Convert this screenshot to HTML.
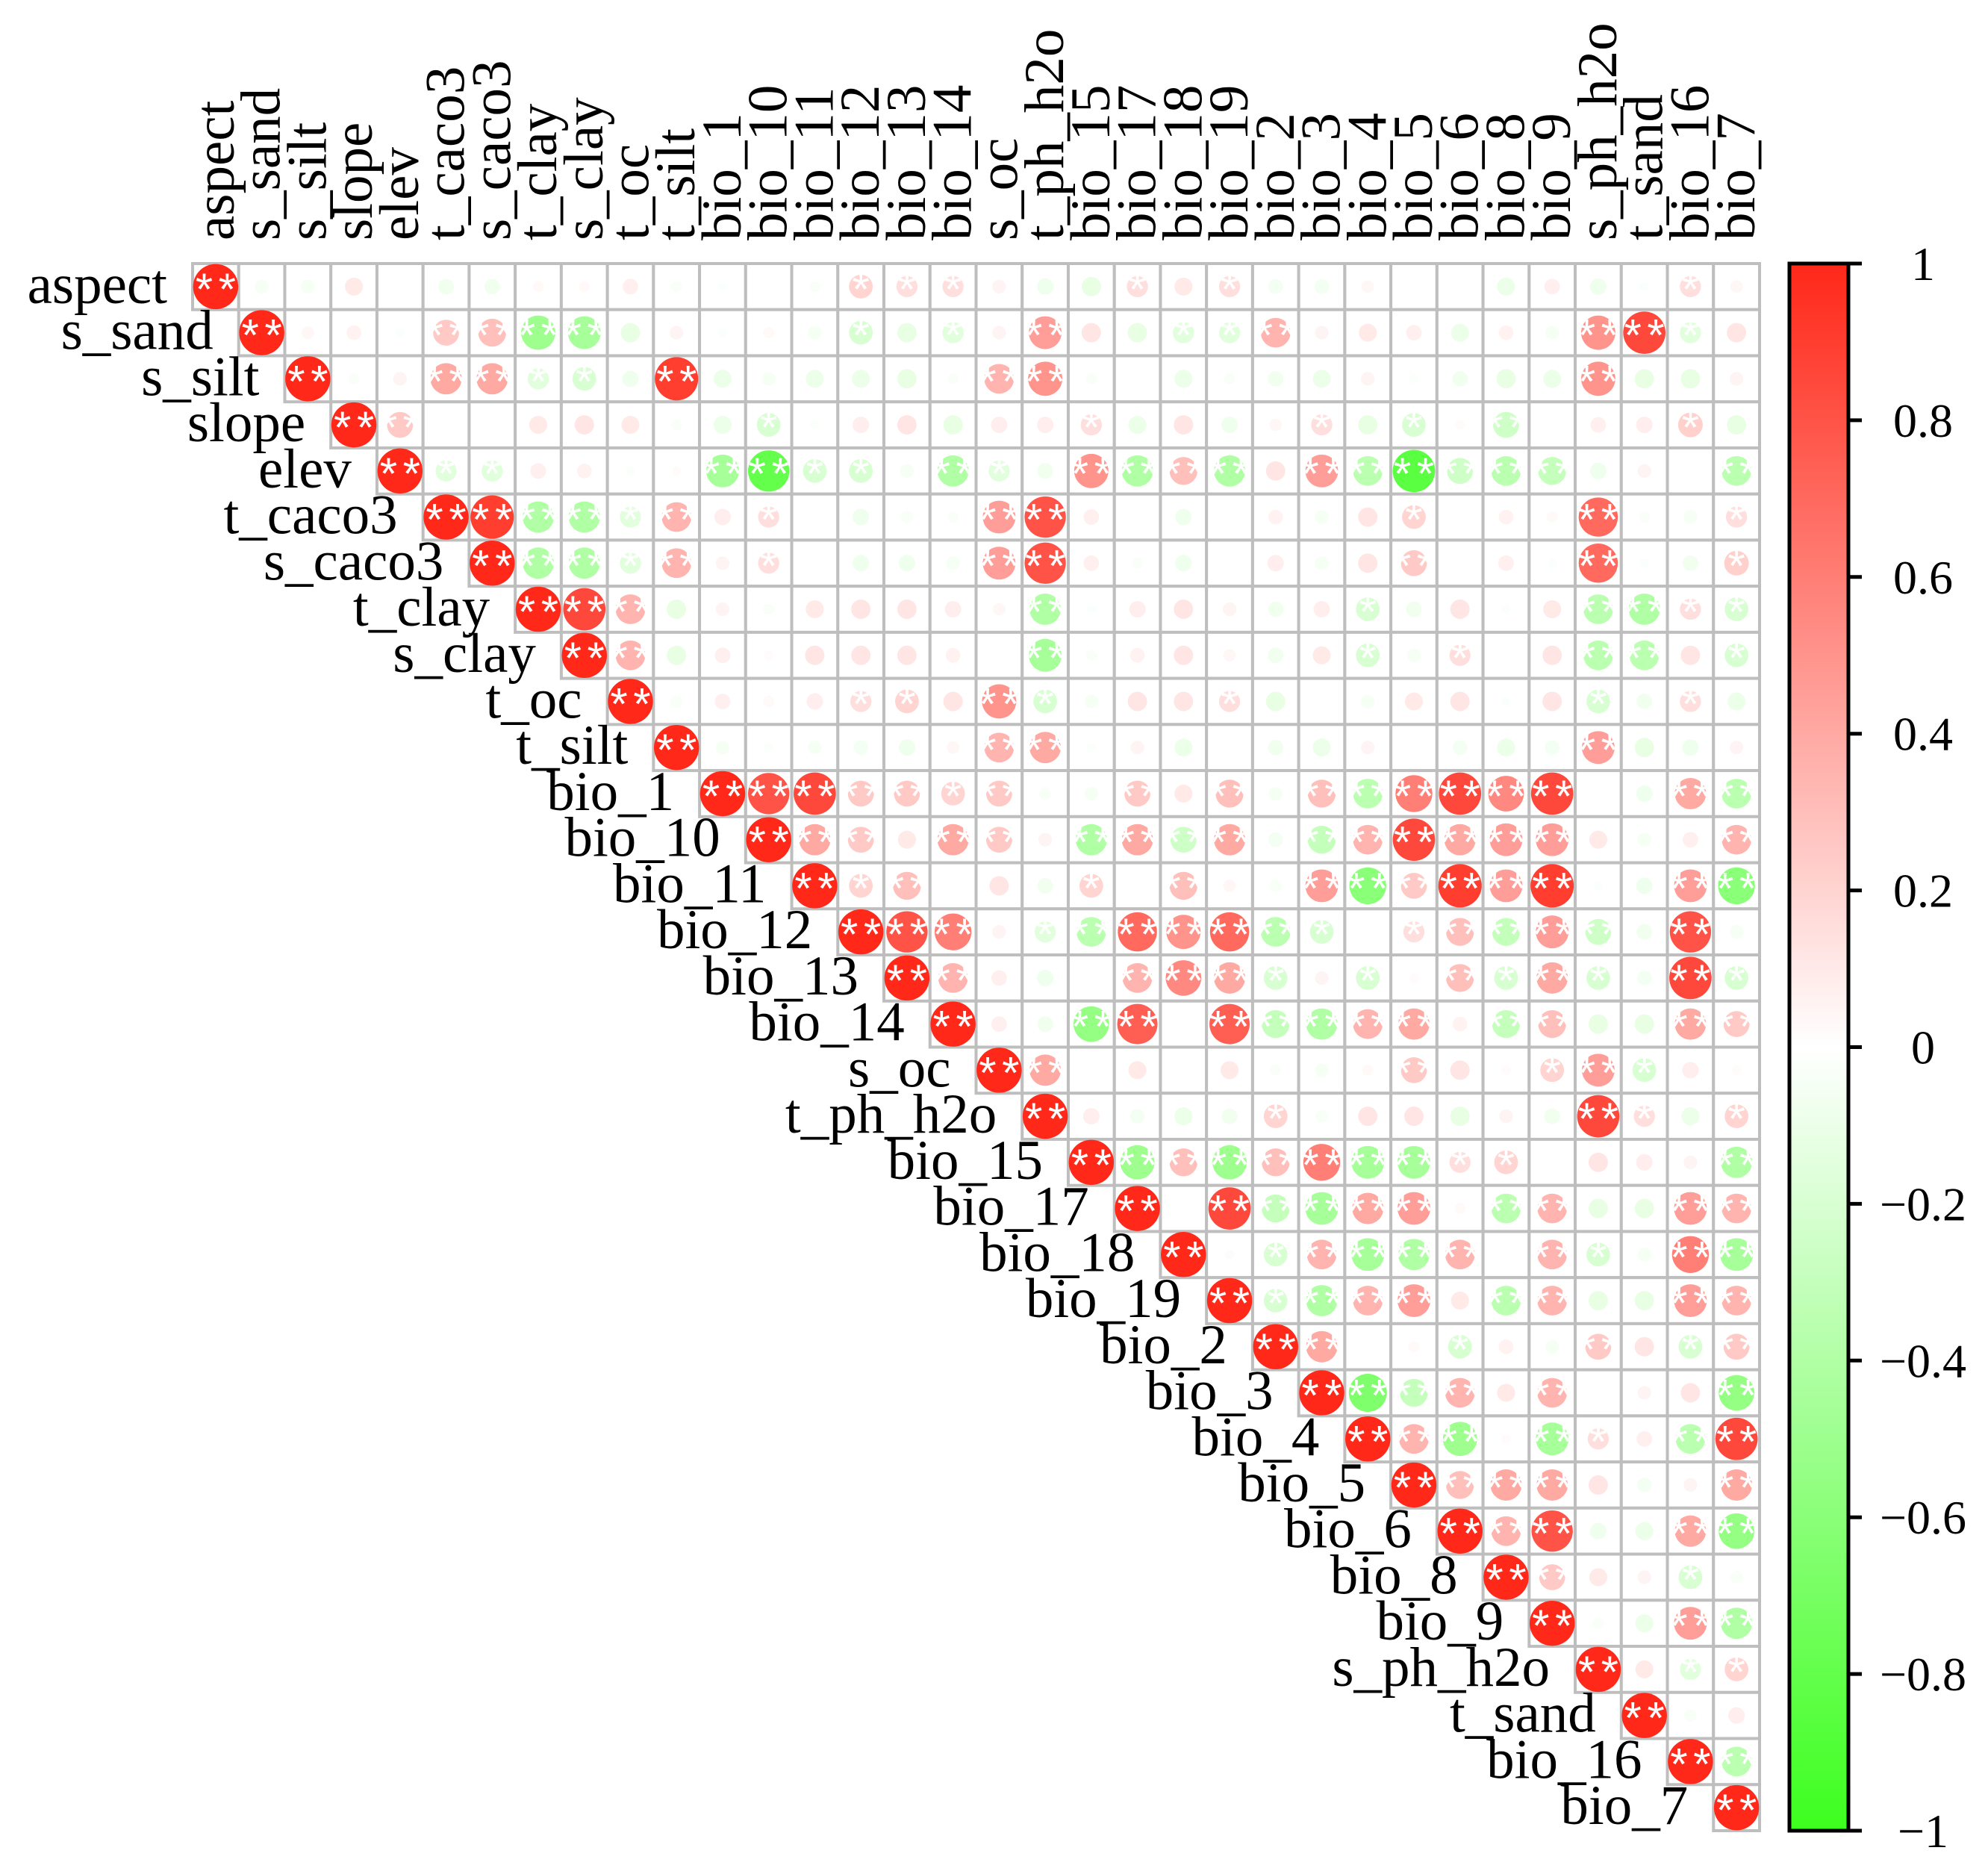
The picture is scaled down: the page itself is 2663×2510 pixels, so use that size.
<!DOCTYPE html>
<html><head><meta charset="utf-8"><style>
html,body{margin:0;padding:0;background:#fff;}
svg{display:block;font-family:"Liberation Serif","DejaVu Serif",serif;}
</style></head><body>
<svg id="chart" width="2663" height="2510" viewBox="0 0 2663 2510" xmlns="http://www.w3.org/2000/svg">
<defs>
<linearGradient id="cbgrad" x1="0" y1="1" x2="0" y2="0">
<stop offset="0" stop-color="rgb(60,255,30)"/>
<stop offset="0.5" stop-color="#ffffff"/>
<stop offset="1" stop-color="rgb(255,40,25)"/>
</linearGradient>
</defs>
<g id="cells"></g>
<g id="rowlabels"></g>
<g id="collabels"></g>
<g id="colorbar">
<rect x="2397" y="353" width="79" height="2099" fill="url(#cbgrad)" stroke="#000" stroke-width="5"/>
</g>
</svg>
<script>
const variables = ["aspect","s_sand","s_silt","slope","elev","t_caco3","s_caco3","t_clay","s_clay","t_oc","t_silt","bio_1","bio_10","bio_11","bio_12","bio_13","bio_14","s_oc","t_ph_h2o","bio_15","bio_17","bio_18","bio_19","bio_2","bio_3","bio_4","bio_5","bio_6","bio_8","bio_9","s_ph_h2o","t_sand","bio_16","bio_7"];
// upper triangle values: row i holds correlations with columns i+1..33
const corrRows = [
[-0.05,-0.05,0.1,0,-0.07,-0.07,0.03,0.03,0.07,-0.03,-0.02,0,-0.03,0.2,0.15,0.15,0.05,-0.08,-0.12,0.15,0.1,0.15,-0.06,-0.06,0.04,0,0,-0.1,0.07,-0.08,-0.02,0.15,0.04],
[0.04,0.06,-0.02,0.25,0.3,-0.5,-0.45,-0.12,0.05,-0.02,0.03,-0.05,-0.2,-0.12,-0.15,0.05,0.45,0.12,-0.12,-0.15,-0.15,0.35,0.05,0.1,0.07,-0.1,0.06,-0.05,0.5,0.85,-0.15,0.12],
[-0.03,0.05,0.4,0.4,-0.15,-0.2,-0.08,0.9,-0.1,-0.05,-0.1,-0.1,-0.12,-0.03,0.35,0.5,-0.03,0,-0.1,-0.03,-0.07,-0.1,0.05,-0.02,-0.07,-0.12,-0.1,0.5,-0.12,-0.12,0.05],
[0.25,0,0,0.1,0.12,0.1,-0.03,-0.1,-0.2,-0.02,0.08,0.12,-0.12,0.08,0.08,0.15,-0.1,0.12,-0.08,0.04,0.15,-0.12,-0.2,0.02,-0.25,0,0.07,0.08,0.22,-0.12],
[-0.15,-0.15,0.07,0.06,-0.02,0.02,-0.45,-0.8,-0.2,-0.2,-0.05,-0.4,-0.15,-0.07,0.5,-0.4,0.3,-0.4,0.12,0.45,-0.35,-0.85,-0.25,-0.35,-0.3,-0.08,0.05,0,-0.35],
[0.9,-0.4,-0.4,-0.15,0.35,0.08,0.15,0,-0.08,-0.04,-0.03,0.45,0.8,0.07,0,-0.08,0,0.06,-0.05,0.12,0.2,0,0.06,0.03,0.7,-0.03,-0.05,0.15],
[-0.4,-0.4,-0.15,0.35,0.05,0.15,0,-0.08,-0.08,-0.05,0.45,0.8,0.07,-0.03,-0.08,0,0.08,-0.05,0.12,0.25,0,0.07,-0.02,0.7,-0.02,-0.07,0.22],
[0.85,0.35,-0.12,0.05,-0.03,0.1,0.12,0.12,0.08,0.04,-0.4,-0.02,0.08,0.12,0.05,-0.07,0.08,-0.2,-0.07,0.12,-0.02,0.1,-0.35,-0.4,0.15,-0.2],
[0.35,-0.12,0.07,0.02,0.12,0.12,0.12,0.06,0,-0.45,-0.03,0.06,0.12,0.04,-0.07,0.1,-0.2,-0.05,0.15,0,0.12,-0.35,-0.35,0.12,-0.2],
[-0.04,0.07,0.03,0.08,0.15,0.2,0.12,0.5,-0.2,-0.05,0.12,0.12,0.15,-0.12,0,-0.05,0.1,0.12,-0.02,0.12,-0.2,-0.07,0.15,-0.1],
[-0.05,-0.02,-0.05,-0.06,-0.08,0.04,0.35,0.4,-0.02,0.05,-0.1,0,-0.07,-0.1,0.05,0,-0.06,-0.1,-0.06,0.45,-0.12,-0.08,0.05],
[0.8,0.85,0.25,0.25,0.2,0.25,-0.04,-0.05,0.25,0.1,0.3,-0.05,0.3,-0.35,0.6,0.85,0.55,0.85,0,-0.08,0.4,-0.35],
[0.4,0.25,0.1,0.4,0.25,0.05,-0.4,0.4,-0.25,0.4,-0.06,-0.3,0.35,0.85,0.4,0.45,0.45,0.1,-0.05,0.07,0.35],
[0.2,0.3,0,0.12,-0.07,0.2,0,0.3,0.04,-0.04,0.45,-0.6,0.25,0.9,0.45,0.9,-0.02,-0.08,0.45,-0.6],
[0.8,0.6,0.05,-0.15,-0.35,0.7,0.5,0.7,-0.35,-0.2,0,0.15,0.3,-0.3,0.45,-0.25,-0.07,0.8,-0.05],
[0.35,0.07,-0.08,0,0.35,0.55,0.4,-0.2,0.05,-0.2,0.02,0.3,-0.2,0.4,-0.2,-0.06,0.85,-0.2],
[0.07,-0.07,-0.55,0.75,0,0.75,-0.3,-0.4,0.35,0.4,0.06,-0.3,0.3,-0.12,-0.12,0.4,0.25],
[0.4,0,0.1,0,0.1,-0.03,-0.05,0.03,0.25,0.12,0.02,0.2,0.45,-0.2,0.08,0.02],
[0.08,-0.06,-0.1,-0.07,0.2,-0.04,0.12,0.12,-0.12,0.05,-0.07,0.85,0.15,-0.1,0.2],
[-0.5,0.3,-0.5,0.3,0.6,-0.45,-0.45,0.15,0.2,0,0.12,0.08,0.05,-0.4],
[0,0.85,-0.3,-0.45,0.4,0.45,0.03,-0.35,0.35,-0.12,-0.12,0.45,0.35],
[0.02,-0.2,0.35,-0.45,-0.4,0.35,0,0.35,-0.2,-0.05,0.6,-0.45],
[-0.2,-0.4,0.35,0.45,0.1,-0.35,0.35,-0.12,-0.12,0.45,0.35],
[0.4,0,0.03,-0.2,0.06,-0.05,0.25,0.12,-0.2,0.25],
[-0.65,-0.3,0.35,0.1,0.35,0,0.05,0.12,-0.55],
[0.35,-0.5,0.02,-0.45,0.15,0.07,-0.35,0.85],
[0.3,0.4,0.4,0.12,-0.06,0.05,0.4],
[0.35,0.8,-0.08,-0.1,0.4,-0.55],
[0.25,0.1,0.05,-0.2,-0.04],
[-0.03,-0.1,0.45,-0.4],
[0.1,-0.15,0.2],
[-0.04,0.08],
[-0.35],
[]
];
const colorbarTicks = [1,0.8,0.6,0.4,0.2,0,-0.2,-0.4,-0.6,-0.8,-1];

const NS = "http://www.w3.org/2000/svg";
const X0 = 258, Y0 = 353, N = variables.length, CELL = 2099 / N;
function xPos(c){ return X0 + CELL * c; }
function yPos(r){ return Y0 + CELL * r; }
function cbY(v){ return 353 + (1 - v) / 2 * 2099; }
function colorOf(v){
  const a = Math.min(1, Math.abs(v));
  if (v >= 0) return `rgb(255,${Math.round(255 - 215 * a)},${Math.round(255 - 230 * a)})`;
  return `rgb(${Math.round(255 - 195 * a)},255,${Math.round(255 - 225 * a)})`;
}
function mk(tag, attrs, parent){
  const el = document.createElementNS(NS, tag);
  for (const k in attrs) el.setAttribute(k, attrs[k]);
  parent.appendChild(el);
  return el;
}
const cellsG = document.getElementById('cells');
const rowG = document.getElementById('rowlabels');
const colG = document.getElementById('collabels');
const cbG = document.getElementById('colorbar');

function valueAt(r, c){ return r === c ? 1 : corrRows[r][c - r - 1]; }

for (let r = 0; r < N; r++) {
  for (let c = r; c < N; c++) {
    const rect = mk('rect', {x: xPos(c), y: yPos(r), width: CELL, height: CELL, fill: '#fff', stroke: '#bebebe', 'stroke-width': 4}, cellsG);
    
    
  }
}
for (let r = 0; r < N; r++) {
  for (let c = r; c < N; c++) {
    const v = valueAt(r, c);
    if (v === undefined) continue;
    const cx = xPos(c) + CELL / 2, cy = yPos(r) + CELL / 2;
    const rad = 0.49 * CELL * Math.pow(Math.abs(v), 0.4);
    if (rad < 0.5) continue;
    const circ = mk('circle', {cx: cx, cy: cy, r: rad, fill: colorOf(v)}, cellsG);
    
    
    const a = Math.abs(v);
    if (a >= 0.15) {
      const stars = a >= 0.25 ? [-0.25, 0.25] : [0];
      stars.forEach(off => {
        const t = mk('text', {x: cx + off * CELL, y: cy + 24, 'text-anchor': 'middle', 'font-size': 60, fill: '#fff', 'font-family': '"Liberation Sans",sans-serif'}, cellsG);
        
        
        t.textContent = '*';
      });
    }
  }
}
variables.forEach((name, i) => {
  const t = mk('text', {x: xPos(i) - 34, y: yPos(i) + CELL / 2 + 22, 'text-anchor': 'end', 'font-size': 75, fill: '#000'}, rowG);
  
  
  t.textContent = name;
  const cx = xPos(i) + CELL / 2 + 24;
  const ct = mk('text', {x: cx, y: 322, transform: `rotate(-90 ${cx} 322)`, 'font-size': 75, fill: '#000'}, colG);
  
  
  ct.textContent = name;
});
colorbarTicks.forEach(v => {
  const y = cbY(v);
  const tk = mk('line', {x1: 2476, x2: 2494, y1: y, y2: y, stroke: '#000', 'stroke-width': 5}, cbG);
  
  
  const lb = mk('text', {x: 2576, y: y + 22, 'text-anchor': 'middle', 'font-size': 64, fill: '#000'}, cbG);
  
  
  lb.textContent = v < 0 ? '\u2212' + String(-v) : String(v);
});
</script>
</body></html>
